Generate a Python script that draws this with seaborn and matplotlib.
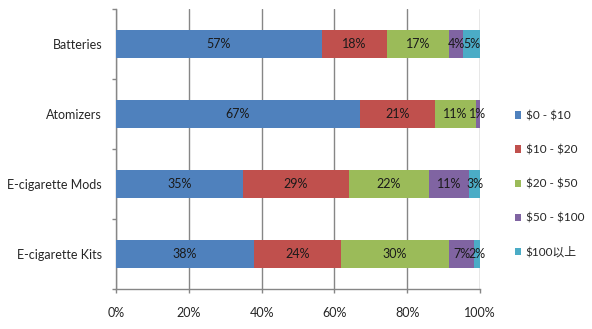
import matplotlib
matplotlib.use("Agg")
import matplotlib.pyplot as plt
import seaborn as sns
import pandas as pd
import numpy as np
from matplotlib.patches import Patch

sns.set_theme(style="white")
plt.rcParams["font.family"] = ["Lato", "Noto Sans CJK SC", "DejaVu Sans"]

# Products and price-band shares (percent of each product's sales)
categories = ["Batteries", "Atomizers", "E-cigarette Mods", "E-cigarette Kits"]
price_bands = [r"\$0 - \$10", r"\$10 - \$20", r"\$20 - \$50", r"\$50 - \$100", r"\$100以上"]
share_0_10 = [56.6, 67.0, 34.9, 38.0]
share_10_20 = [17.9, 20.6, 29.1, 23.8]
share_20_50 = [17.0, 11.3, 22.0, 29.7]
share_50_100 = [3.8, 1.1, 11.0, 7.0]
share_100_up = [4.7, 0.0, 3.0, 1.6]

series = [share_0_10, share_10_20, share_20_50, share_50_100, share_100_up]
colors = ["#4F81BD", "#C0504D", "#9BBB59", "#8064A2", "#4BACC6"]

values = np.array(series, dtype=float)          # bands x categories
fractions = values / values.sum(axis=0)           # 100% stacked
cum = np.cumsum(fractions, axis=0)

FS = 9

fig = plt.figure(figsize=(5.92, 3.29), dpi=100)
ax = fig.add_axes([116 / 592, 40 / 329, 364 / 592, 280 / 329])

# Draw layers from the outermost cumulative edge inward so each band shows
for i in range(len(series) - 1, -1, -1):
    df = pd.DataFrame({"category": categories, "end": cum[i]})
    sns.barplot(data=df, x="end", y="category", order=categories,
                color=colors[i], saturation=1, width=0.39, ax=ax,
                edgecolor="none", linewidth=0, zorder=3)

# Value labels centred in each segment
for i in range(len(series)):
    for j in range(len(categories)):
        if values[i, j] <= 0:
            continue
        mid = cum[i, j] - fractions[i, j] / 2
        ax.text(mid, j, f"{values[i, j]:.0f}%", ha="center", va="center",
                fontsize=FS, color="#1a1a1a", zorder=5)

ax.set_xlim(0, 1)
ax.set_ylim(3.5, -0.5)
ax.set_xticks(np.linspace(0, 1, 6))
ax.set_xticklabels([f"{int(t*100)}%" for t in np.linspace(0, 1, 6)], fontsize=FS)
ax.set_xlabel("")
ax.set_ylabel("")
ax.set_yticks(range(len(categories)))
ax.set_yticklabels(categories, fontsize=FS)
ax.set_yticks(np.arange(-0.5, 4, 1), minor=True)

ax.tick_params(axis="y", which="major", length=0, pad=10)
ax.tick_params(axis="y", which="minor", length=3, color="#868686", width=1, direction="out", left=True)
ax.tick_params(axis="x", which="major", length=3, color="#868686", width=1, direction="out", bottom=True, pad=10)

ax.grid(axis="x", color="#868686", linewidth=1, zorder=0)
ax.set_axisbelow(True)
for s in ["top", "right"]:
    ax.spines[s].set_visible(False)
for s in ["left", "bottom"]:
    ax.spines[s].set_color("#868686")
    ax.spines[s].set_linewidth(1)

handles = [Patch(facecolor=c, edgecolor="none") for c in colors]
fig.legend(handles, price_bands, loc="center left", bbox_to_anchor=(515 / 592, 1 - 184 / 329),
           frameon=False, fontsize=8.5, handlelength=0.55, handleheight=0.55,
           handletextpad=0.35, labelspacing=1.95, borderpad=0, borderaxespad=0)

fig.savefig("out.png", dpi=100)
